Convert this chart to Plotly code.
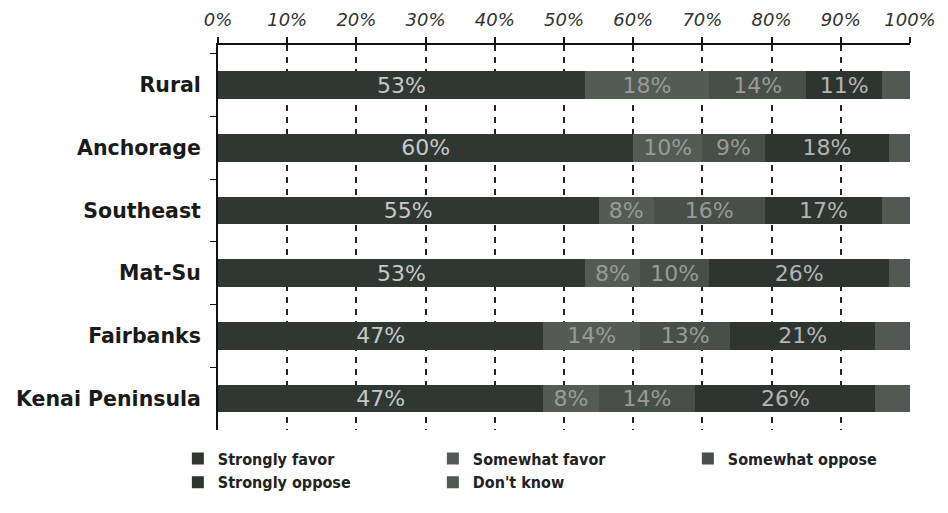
import plotly.graph_objects as go

regions = ["Rural", "Anchorage", "Southeast", "Mat-Su", "Fairbanks", "Kenai Peninsula"]
strongly_favor = [53, 60, 55, 53, 47, 47]
somewhat_favor = [18, 10, 8, 8, 14, 8]
somewhat_oppose = [14, 9, 16, 10, 13, 14]
strongly_oppose = [11, 18, 17, 26, 21, 26]
dont_know = [4, 3, 4, 3, 5, 5]
tick_vals = [0, 10, 20, 30, 40, 50, 60, 70, 80, 90, 100]
tick_text = [f"{v}%" for v in tick_vals]

series = [
    ("Strongly favor", strongly_favor, "#2f3732", "#c8c8c8", True),
    ("Somewhat favor", somewhat_favor, "#535b55", "#9a9a9a", True),
    ("Somewhat oppose", somewhat_oppose, "#474f49", "#9a9a9a", True),
    ("Strongly oppose", strongly_oppose, "#2e3530", "#b4b4b4", True),
    ("Don't know", dont_know, "#525954", "#888888", False),
]

fig = go.Figure()
for name, vals, color, tcolor, show_text in series:
    fig.add_trace(go.Bar(
        name=name,
        y=regions,
        x=vals,
        orientation="h",
        marker=dict(color=color, line=dict(width=0)),
        text=[f"{v}%" for v in vals] if show_text else None,
        textposition="inside" if show_text else "none",
        insidetextanchor="middle",
        textfont=dict(family="DejaVu Sans", size=22, color=tcolor),
    ))

fig.update_layout(
    barmode="stack",
    bargap=0.56,
    width=948,
    height=513,
    margin=dict(l=218, r=38, t=45, b=83),
    paper_bgcolor="white",
    plot_bgcolor="white",
    uniformtext=dict(minsize=22, mode="show"),
    legend=dict(
        orientation="h",
        x=-0.058,
        xanchor="left",
        y=-0.03,
        yanchor="top",
        entrywidth=210,
        font=dict(family="DejaVu Sans Condensed", size=16, color="#222222", weight="bold"),
        itemwidth=30,
        traceorder="normal",
    ),
    xaxis=dict(
        side="top",
        range=[0, 100],
        tickvals=tick_vals,
        ticktext=tick_text,
        tickfont=dict(family="DejaVu Sans", size=18, color="#333333", style="italic"),
        showline=True,
        linecolor="#111111",
        linewidth=2,
        ticks="outside",
        ticklen=6,
        tickwidth=1.5,
        tickcolor="#111111",
        ticklabelstandoff=4,
        showgrid=True,
        gridcolor="#222222",
        griddash="6px,6px",
        gridwidth=1.5,
        zeroline=False,
        automargin=False,
        fixedrange=True,
    ),
    yaxis=dict(
        range=[5.5, -0.64],
        showline=True,
        linecolor="#111111",
        linewidth=2,
        ticks="outside",
        ticklen=6,
        tickcolor="#111111",
        tickson="boundaries",
        tickfont=dict(family="DejaVu Sans", size=20.5, color="#1a1a1a", weight="bold"),
        ticklabelstandoff=11,
        showgrid=False,
        automargin=False,
        fixedrange=True,
    ),
)

fig.write_html("out.html", config={"displayModeBar": False},
               post_script="document.body.style.margin='0';")
